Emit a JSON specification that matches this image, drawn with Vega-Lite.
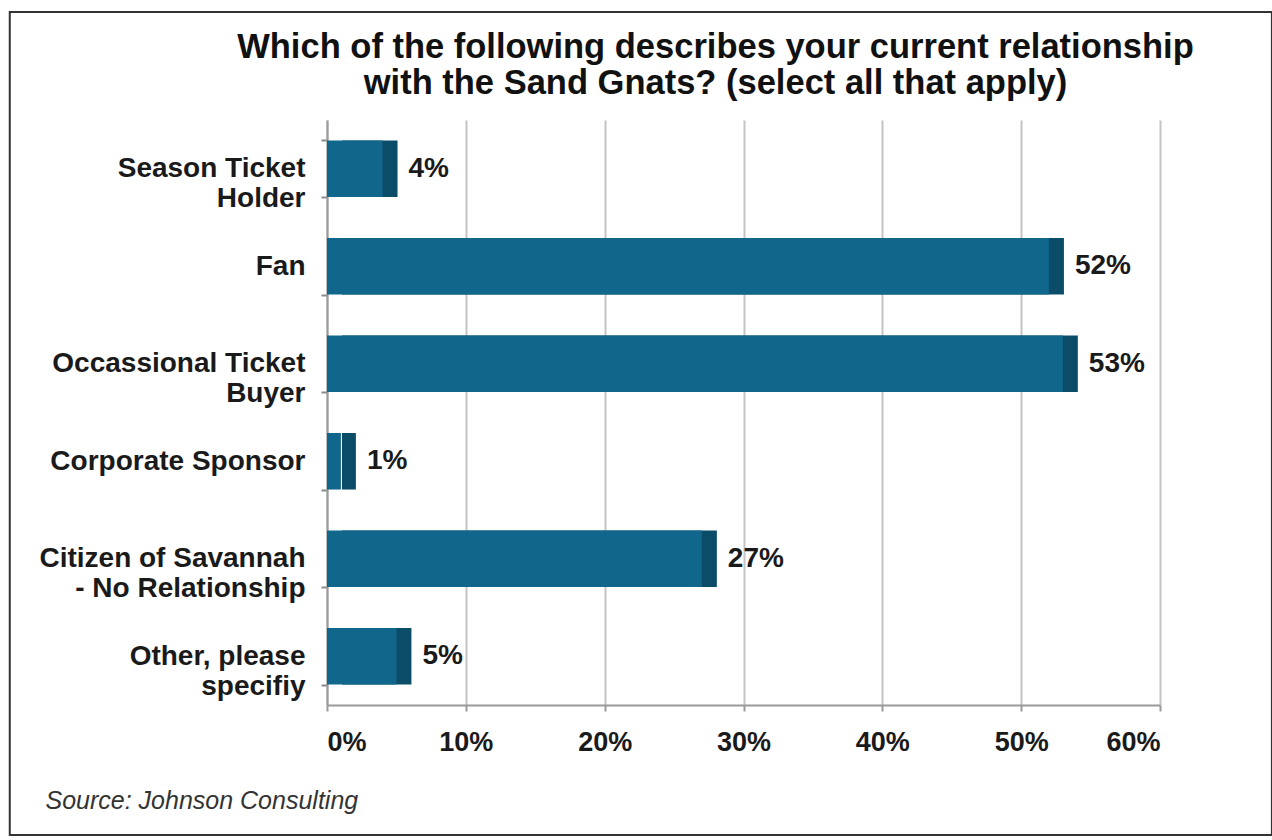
{
  "$schema": "https://vega.github.io/schema/vega-lite/v6.json",
  "width": 833,
  "height": 585,
  "autosize": {"type": "none"},
  "padding": {"left": 327, "top": 120, "right": 112, "bottom": 135},
  "background": "white",
  "title": {
    "text": ["Which of the following describes your current relationship", "with the Sand Gnats? (select all that apply)"],
    "font": "Liberation Sans",
    "fontSize": 34.5,
    "fontWeight": "bold",
    "color": "#111111",
    "anchor": "middle",
    "frame": "group",
    "dx": -28,
    "offset": -90,
    "lineHeight": 36
  },
  "config": {
    "view": {"stroke": null},
    "font": "Liberation Sans"
  },
  "data": {
    "values": [
      {"category": "Season Ticket Holder", "value": 0.04},
      {"category": "Fan", "value": 0.52},
      {"category": "Occassional Ticket Buyer", "value": 0.53},
      {"category": "Corporate Sponsor", "value": 0.01},
      {"category": "Citizen of Savannah - No Relationship", "value": 0.27},
      {"category": "Other, please specifiy", "value": 0.05}
    ]
  },
  "resolve": {"scale": {"y": "independent"}, "axis": {"y": "independent"}},
  "layer": [
    {
      "data": {"values": [{}]},
      "mark": {"type": "rect", "filled": false, "stroke": "#333333", "strokeWidth": 2},
      "encoding": {
        "x": {"datum": -0.2285, "type": "quantitative", "scale": {"domain": [0, 0.6]}},
        "x2": {"datum": 0.6806},
        "y": {"datum": 1.1846, "type": "quantitative", "scale": {"domain": [0, 1]}, "axis": null},
        "y2": {"datum": -0.2222}
      }
    },
    {
      "layer": [
        {
          "mark": {"type": "bar", "color": "#0b4c69", "xOffset": 15},
          "encoding": {
            "y": {
              "field": "category", "type": "nominal", "sort": null,
              "scale": {"paddingInner": 0.42, "paddingOuter": 0.21},
              "axis": {
                "title": null,
                "domainColor": "#9a9a9a",
                "domainWidth": 2,
                "tickBand": "extent",
                "tickColor": "#8a8a8a",
                "tickSize": 6,
                "tickWidth": 2,
                "labelPadding": 16,
                "labelFont": "Liberation Sans",
                "labelFontSize": 28,
                "labelFontWeight": "bold",
                "labelColor": "#1a1a1a",
                "labelLineHeight": 30,
                "labelLimit": 320,
                "labelExpr": "datum.value == 'Season Ticket Holder' ? ['Season Ticket', 'Holder'] : datum.value == 'Occassional Ticket Buyer' ? ['Occassional Ticket', 'Buyer'] : datum.value == 'Citizen of Savannah - No Relationship' ? ['Citizen of Savannah', '- No Relationship'] : datum.value == 'Other, please specifiy' ? ['Other, please', 'specifiy'] : datum.value"
              }
            },
            "x": {"field": "value", "type": "quantitative"}
          }
        },
        {
          "mark": {"type": "bar", "color": "#11668c"},
          "encoding": {
            "y": {"field": "category", "type": "nominal", "sort": null,
                  "scale": {"paddingInner": 0.42, "paddingOuter": 0.21}},
            "x": {
              "field": "value", "type": "quantitative",
              "scale": {"domain": [0, 0.6]},
              "axis": {
                "format": ".0%",
                "values": [0, 0.1, 0.2, 0.3, 0.4, 0.5, 0.6],
                "grid": true,
                "gridColor": "#c4c4c4",
                "gridWidth": 2,
                "domainColor": "#9a9a9a",
                "domainWidth": 2,
                "tickColor": "#9a9a9a",
                "tickSize": 6,
                "tickWidth": 2,
                "labelPadding": 18,
                "labelFont": "Liberation Sans",
                "labelFontSize": 27,
                "labelFontWeight": "bold",
                "labelColor": "#1a1a1a",
                "title": "Source: Johnson Consulting",
                "titleFont": "Liberation Sans",
                "titleFontSize": 25,
                "titleFontStyle": "italic",
                "titleFontWeight": "normal",
                "titleColor": "#333333",
                "titleAnchor": "start",
                "titleAlign": "left",
                "titleX": -282,
                "titleY": 95,
                "titleBaseline": "middle"
              }
            }
          }
        },
        {
          "mark": {"type": "text", "align": "left", "baseline": "middle", "dx": 26, "dy": 0,
                   "font": "Liberation Sans", "fontSize": 28, "fontWeight": "bold", "color": "#1a1a1a"},
          "encoding": {
            "y": {"field": "category", "type": "nominal", "sort": null,
                  "scale": {"paddingInner": 0.42, "paddingOuter": 0.21}},
            "x": {"field": "value", "type": "quantitative"},
            "text": {"field": "value", "type": "quantitative", "format": ".0%"}
          }
        }
      ]
    }
  ]
}
